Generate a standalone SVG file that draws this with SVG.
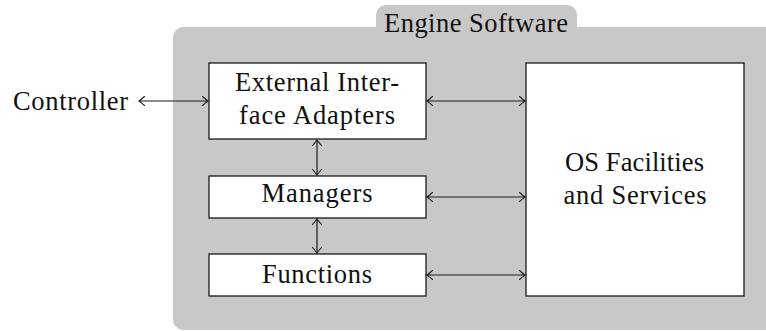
<svg xmlns="http://www.w3.org/2000/svg" width="766" height="331" viewBox="0 0 766 331">
  <style>
    .bg { fill: #c8c8c8; }
    .box { fill: #ffffff; stroke: #1a1a1a; stroke-width: 1.3; }
    .lbl { font-family: "Liberation Serif", "Times New Roman", serif; font-size: 26.5px; fill: #111111; text-anchor: middle; }
    .conn { fill: none; stroke: #1a1a1a; stroke-width: 1.2; marker-start: url(#arr); marker-end: url(#arr); }
  </style>
  <defs>
    <marker id="arr" viewBox="-8 -6 10 12" markerWidth="10" markerHeight="12" refX="0" refY="0" orient="auto-start-reverse" markerUnits="userSpaceOnUse">
      <path d="M -5.5 -4.5 Q -1.5 -1 0 0 Q -1.5 1 -5.5 4.5" fill="none" stroke="#1a1a1a" stroke-width="1.1" stroke-linecap="round"/>
    </marker>
  </defs>

  <g id="engine-software">
    <rect class="bg" x="376" y="5" width="201" height="40" rx="10"/>
    <rect class="bg" x="173" y="27" width="620" height="303" rx="10"/>
    <text class="lbl" x="476" y="32" textLength="184">Engine Software</text>
  </g>

  <g id="controller">
    <text class="lbl" x="70.5" y="110" textLength="115">Controller</text>
  </g>

  <g id="external-interface-adapters">
    <rect class="box" x="209" y="63" width="217" height="76"/>
    <text class="lbl" x="317" y="90.5" textLength="164">External Inter-</text>
    <text class="lbl" x="317" y="124" textLength="156">face Adapters</text>
  </g>

  <g id="managers">
    <rect class="box" x="209" y="176" width="217" height="42"/>
    <text class="lbl" x="317" y="202" textLength="111">Managers</text>
  </g>

  <g id="functions">
    <rect class="box" x="209" y="254" width="217" height="42"/>
    <text class="lbl" x="317" y="282.5" textLength="110">Functions</text>
  </g>

  <g id="os-facilities">
    <rect class="box" x="526" y="63" width="218" height="233"/>
    <text class="lbl" x="634.5" y="171" textLength="139">OS Facilities</text>
    <text class="lbl" x="635" y="204" textLength="143">and Services</text>
  </g>

  <g id="connectors">
    <line class="conn" x1="139" y1="101" x2="208" y2="101"/>
    <line class="conn" x1="427" y1="101" x2="525" y2="101"/>
    <line class="conn" x1="427" y1="197" x2="525" y2="197"/>
    <line class="conn" x1="427" y1="275" x2="525" y2="275"/>
    <line class="conn" x1="317" y1="140" x2="317" y2="175"/>
    <line class="conn" x1="317" y1="219" x2="317" y2="253"/>
  </g>
</svg>
